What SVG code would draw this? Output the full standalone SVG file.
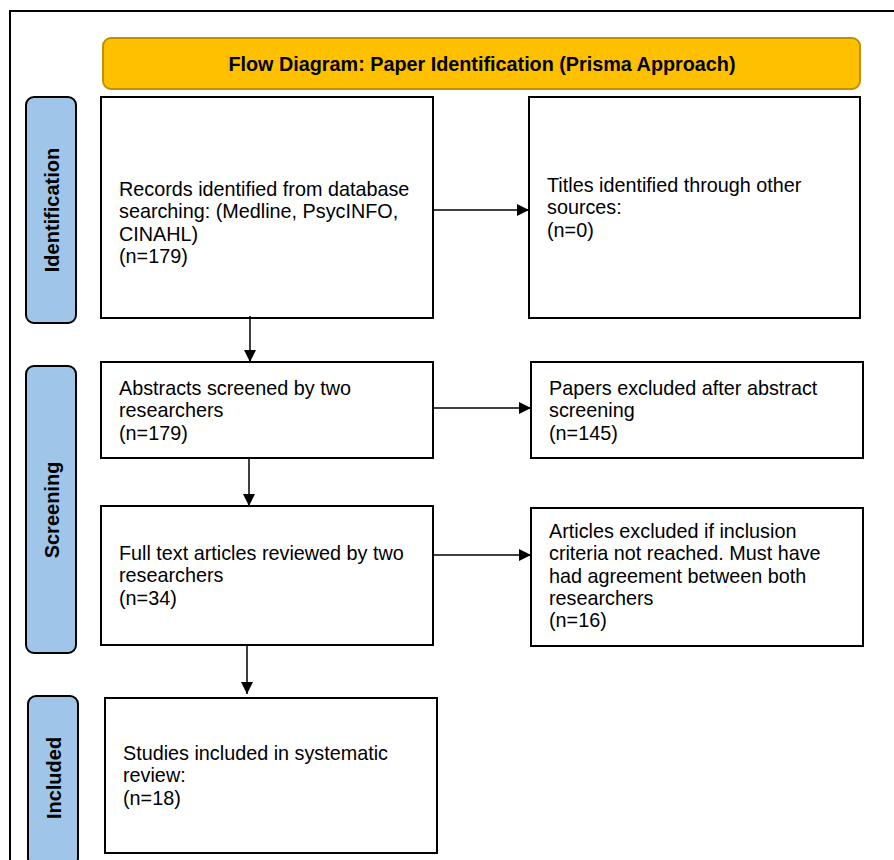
<svg xmlns="http://www.w3.org/2000/svg" width="894" height="860" viewBox="0 0 894 860">
<defs>
<style>
.box{fill:#fff;stroke:#000;stroke-width:2}
.side{fill:#9fc5e8;stroke:#000;stroke-width:2}
.t{font-family:"Liberation Sans",Arial,sans-serif;font-size:19.8px;fill:#000}
.sl{font-family:"Liberation Sans",Arial,sans-serif;font-size:20px;font-weight:bold;fill:#000;text-anchor:middle}
.ttl{font-family:"Liberation Sans",Arial,sans-serif;font-size:19.8px;font-weight:bold;fill:#000;text-anchor:middle}
.c{fill:none;stroke:#000;stroke-width:1.5}
</style>
<marker id="av" viewBox="0 0 12 12" refX="12" refY="6" markerWidth="12" markerHeight="12" markerUnits="userSpaceOnUse" orient="auto">
<path d="M0,0 L12,6 L0,12 z" fill="#000"/>
</marker>
</defs>
<rect width="894" height="860" fill="#fff"/>
<rect x="10" y="11" width="900" height="870" fill="none" stroke="#000" stroke-width="2"/>

<g id="title">
<rect x="103" y="38" width="757" height="51" rx="8" fill="#ffc000" stroke="#bf9000" stroke-width="2"/>
<text class="ttl" x="482" y="71">Flow Diagram: Paper Identification (Prisma Approach)</text>
</g>

<g id="side-identification">
<rect class="side" x="26" y="97" width="50" height="226" rx="8"/>
<text class="sl" transform="translate(59,210) rotate(-90)">Identification</text>
</g>
<g id="side-screening">
<rect class="side" x="26" y="366" width="50" height="287" rx="8"/>
<text class="sl" transform="translate(59,510) rotate(-90)">Screening</text>
</g>
<g id="side-included">
<rect class="side" x="28" y="696" width="50" height="170" rx="8"/>
<text class="sl" transform="translate(61,778) rotate(-90)">Included</text>
</g>

<g id="records">
<rect class="box" x="101" y="97" width="332" height="221"/>
<text class="t"><tspan x="119" y="196">Records identified from database</tspan><tspan x="119" y="218.3">searching: (Medline, PsycINFO,</tspan><tspan x="119" y="240.6">CINAHL)</tspan><tspan x="119" y="262.9">(n=179)</tspan></text>
</g>
<g id="titles-other">
<rect class="box" x="529" y="97" width="331" height="221"/>
<text class="t"><tspan x="547" y="192">Titles identified through other</tspan><tspan x="547" y="214.3">sources:</tspan><tspan x="547" y="236.6">(n=0)</tspan></text>
</g>
<g id="abstracts">
<rect class="box" x="101" y="362" width="332" height="96"/>
<text class="t"><tspan x="119" y="395">Abstracts screened by two</tspan><tspan x="119" y="417.3">researchers</tspan><tspan x="119" y="439.6">(n=179)</tspan></text>
</g>
<g id="excluded-abstract">
<rect class="box" x="531" y="362" width="332" height="96"/>
<text class="t"><tspan x="549" y="395">Papers excluded after abstract</tspan><tspan x="549" y="417.3">screening</tspan><tspan x="549" y="439.6">(n=145)</tspan></text>
</g>
<g id="fulltext">
<rect class="box" x="101" y="506" width="332" height="139"/>
<text class="t"><tspan x="119" y="560">Full text articles reviewed by two</tspan><tspan x="119" y="582.3">researchers</tspan><tspan x="119" y="604.6">(n=34)</tspan></text>
</g>
<g id="excluded-fulltext">
<rect class="box" x="531" y="508" width="332" height="138"/>
<text class="t"><tspan x="549" y="538">Articles excluded if inclusion</tspan><tspan x="549" y="560.3">criteria not reached. Must have</tspan><tspan x="549" y="582.6">had agreement between both</tspan><tspan x="549" y="604.9">researchers</tspan><tspan x="549" y="627.2">(n=16)</tspan></text>
</g>
<g id="included">
<rect class="box" x="105" y="698" width="332" height="155"/>
<text class="t"><tspan x="123" y="760">Studies included in systematic</tspan><tspan x="123" y="782.3">review:</tspan><tspan x="123" y="804.6">(n=18)</tspan></text>
</g>

<g id="connectors">
<line class="c" x1="433" y1="210" x2="529" y2="210" marker-end="url(#av)"/>
<line class="c" x1="250" y1="316" x2="250" y2="362" marker-end="url(#av)"/>
<line class="c" x1="433" y1="408" x2="531" y2="408" marker-end="url(#av)"/>
<line class="c" x1="249" y1="458" x2="249" y2="506" marker-end="url(#av)"/>
<line class="c" x1="433" y1="555" x2="531" y2="555" marker-end="url(#av)"/>
<line class="c" x1="247" y1="645" x2="247" y2="694" marker-end="url(#av)"/>
</g>
</svg>
